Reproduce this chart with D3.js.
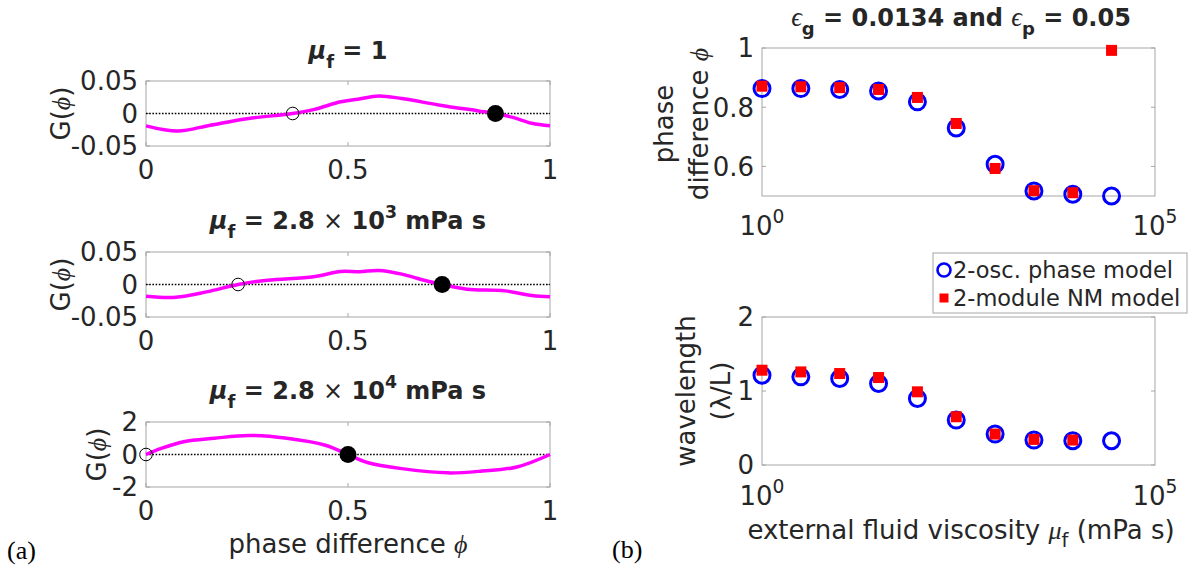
<!DOCTYPE html>
<html><head><meta charset="utf-8">
<script src="https://cdn.jsdelivr.net/npm/d3@7"></script>
<style>
body{margin:0;background:#fff}
svg text{font-family:"DejaVu Sans",Verdana,sans-serif;fill:#262626}
</style>
</head><body>
<svg id="c" width="1193" height="571"></svg>
<script>
// ---------- data ----------
const phiA = [0, 0.079, 0.159, 0.254, 0.363, 0.415, 0.482, 0.524, 0.576, 0.633, 0.728, 0.823, 0.865, 0.908, 0.955, 1.0];
const gA   = [-0.019, -0.027, -0.018, -0.0077, 0, 0.006, 0.018, 0.022, 0.027, 0.023, 0.0128, 0.004, 0, -0.006, -0.015, -0.019];
const phiB = [0, 0.074, 0.150, 0.228, 0.301, 0.415, 0.482, 0.529, 0.576, 0.633, 0.681, 0.733, 0.794, 0.889, 0.955, 1.0];
const gB   = [-0.018, -0.0196, -0.0113, 0, 0.0067, 0.0119, 0.020, 0.0196, 0.0216, 0.016, 0.0077, 0, -0.0072, -0.0098, -0.017, -0.019];
const phiC = [0, 0.036, 0.093, 0.169, 0.254, 0.349, 0.444, 0.5, 0.548, 0.633, 0.747, 0.832, 0.918, 1.0];
const gC   = [0, 0.36, 0.79, 1.0, 1.17, 1.0, 0.57, 0, -0.49, -0.87, -1.13, -1.02, -0.77, 0];
const unstableZeros = [0.363, 0.228, 0];
const stableZeros   = [0.865, 0.733, 0.5];
const gDomains = [[-0.05, 0.05], [-0.05, 0.05], [-2, 2]];
const gTicks   = [[-0.05, 0, 0.05], [-0.05, 0, 0.05], [-2, 0, 2]];
const gTickLabels = [["-0.05", "0", "0.05"], ["-0.05", "0", "0.05"], ["-2", "0", "2"]];
const phiTicks = [0, 0.5, 1];
const phiTickLabels = ["0", "0.5", "1"];

const muValues = [1, 3.12, 9.74, 30.4, 94.9, 296, 924, 2884, 9000, 28000];
const phaseOsc = [0.863, 0.863, 0.860, 0.855, 0.818, 0.730, 0.607, 0.517, 0.506, 0.500];
const phaseNM  = [0.871, 0.869, 0.866, 0.860, 0.833, 0.745, 0.593, 0.518, 0.511, 0.992];
const waveOsc  = [1.213, 1.191, 1.169, 1.101, 0.899, 0.607, 0.418, 0.337, 0.328, 0.328];
const waveNM   = [1.281, 1.258, 1.236, 1.182, 0.989, 0.652, 0.418, 0.346, 0.337];
const phaseTicks = [0.6, 0.8, 1];
const phaseTickLabels = ["0.6", "0.8", "1"];
const waveTicks = [0, 1, 2];
const waveTickLabels = ["0", "1", "2"];
const legendLabels = ["2-osc. phase model", "2-module NM model"];

// ---------- drawing ----------
const svg = d3.select("#c");
const FS = 26;     // tick labels
const FL = 26;     // axis labels
const FT = 24;     // titles
const SERIF = "'Liberation Serif','DejaVu Serif',serif";
const boxColor = "#a6a6a6";
const tickLen = 4;

// Left panels
const L = {x0: 146, x1: 550, h: 65, tops: [81, 252, 422]};
const xPhi = d3.scaleLinear().domain([0, 1]).range([L.x0, L.x1]);
const curves = [[phiA, gA], [phiB, gB], [phiC, gC]];
const titleBaselines = [59, 229, 399];
const gLabelX = [70, 70, 106];

curves.forEach(([px, gy], i) => {
  const top = L.tops[i], bot = top + L.h;
  const y = d3.scaleLinear().domain(gDomains[i]).range([bot, top]);
  const g = svg.append("g");
  g.append("rect").attr("x", L.x0).attr("y", top).attr("width", L.x1 - L.x0).attr("height", L.h)
    .attr("fill", "none").attr("stroke", boxColor).attr("stroke-width", 1);
  phiTicks.forEach(t => {
    const xx = xPhi(t);
    g.append("line").attr("x1", xx).attr("x2", xx).attr("y1", bot).attr("y2", bot - tickLen).attr("stroke", boxColor);
    g.append("line").attr("x1", xx).attr("x2", xx).attr("y1", top).attr("y2", top + tickLen).attr("stroke", boxColor);
  });
  gTicks[i].forEach(t => {
    const yy = y(t);
    g.append("line").attr("x1", L.x0).attr("x2", L.x0 + tickLen).attr("y1", yy).attr("y2", yy).attr("stroke", boxColor);
    g.append("line").attr("x1", L.x1).attr("x2", L.x1 - tickLen).attr("y1", yy).attr("y2", yy).attr("stroke", boxColor);
  });
  gTicks[i].forEach((t, k) => {
    g.append("text").attr("x", L.x0 - 8).attr("y", y(t)).attr("dy", "0.36em")
      .attr("text-anchor", "end").attr("font-size", FS).text(gTickLabels[i][k]);
  });
  phiTicks.forEach((t, k) => {
    g.append("text").attr("x", xPhi(t)).attr("y", bot + 33)
      .attr("text-anchor", "middle").attr("font-size", FS).text(phiTickLabels[k]);
  });
  g.append("line").attr("x1", L.x0).attr("x2", L.x1).attr("y1", y(0)).attr("y2", y(0))
    .attr("stroke", "#000").attr("stroke-width", 1.6).attr("stroke-dasharray", "1.6,1.6");
  const data = px.map((p, k) => [p, gy[k]]);
  g.append("path").datum(data)
    .attr("d", d3.line().x(d => xPhi(d[0])).y(d => y(d[1])).curve(d3.curveCatmullRom.alpha(0.5)))
    .attr("fill", "none").attr("stroke", "#ff00ff").attr("stroke-width", 3.5);
  g.append("circle").attr("cx", xPhi(unstableZeros[i])).attr("cy", y(0)).attr("r", 6.3)
    .attr("fill", "none").attr("stroke", "#000").attr("stroke-width", 1);
  g.append("circle").attr("cx", xPhi(stableZeros[i])).attr("cy", y(0)).attr("r", 8.5)
    .attr("fill", "#000");
  const yl = g.append("text").attr("transform", `translate(${gLabelX[i]},${(top + bot) / 2}) rotate(-90)`)
    .attr("text-anchor", "middle").attr("font-size", FL);
  yl.append("tspan").text("G(");
  yl.append("tspan").attr("font-family", SERIF).attr("font-style", "italic").text("ϕ");
  yl.append("tspan").text(")");
  const tt = g.append("text").attr("x", (L.x0 + L.x1) / 2).attr("y", titleBaselines[i])
    .attr("text-anchor", "middle").attr("font-size", FT).attr("font-weight", "bold");
  tt.append("tspan").attr("font-style", "italic").text("μ");
  tt.append("tspan").attr("font-size", FT * 0.75).attr("dy", 9).text("f");
  if (i === 0) {
    tt.append("tspan").attr("dy", -9).text(" = 1");
  } else {
    tt.append("tspan").attr("dy", -9).text(" = 2.8 ");
    tt.append("tspan").attr("font-weight", "normal").text("×");
    tt.append("tspan").text(" 10");
    tt.append("tspan").attr("font-size", FT * 0.72).attr("dy", -11).text(i === 1 ? "3" : "4");
    tt.append("tspan").attr("dy", 11).text(" mPa s");
  }
});

// x label left
const xlL = svg.append("text").attr("x", (L.x0 + L.x1) / 2).attr("y", 553)
  .attr("text-anchor", "middle").attr("font-size", FL);
xlL.append("tspan").text("phase difference ");
xlL.append("tspan").attr("font-family", SERIF).attr("font-style", "italic").text("ϕ");

svg.append("text").attr("x", 7).attr("y", 559).attr("font-size", 26)
  .style("font-family", SERIF).style("fill", "#000").text("(a)");
svg.append("text").attr("x", 612).attr("y", 558).attr("font-size", 26)
  .style("font-family", SERIF).style("fill", "#000").text("(b)");

// Right panels
const R = {x0: 762, x1: 1155};
const xMu = d3.scaleLog().domain([1, 1e5]).range([R.x0, R.x1]);
const panelsR = [
  {top: 48, bot: 196, dom: [0.5, 1], ticks: phaseTicks, labels: phaseTickLabels, osc: phaseOsc, nm: phaseNM, xlabBase: 235},
  {top: 317, bot: 465, dom: [0, 2], ticks: waveTicks, labels: waveTickLabels, osc: waveOsc, nm: waveNM, xlabBase: 505}
];
panelsR.forEach((p, i) => {
  const y = d3.scaleLinear().domain(p.dom).range([p.bot, p.top]);
  const g = svg.append("g");
  g.append("rect").attr("x", R.x0).attr("y", p.top).attr("width", R.x1 - R.x0).attr("height", p.bot - p.top)
    .attr("fill", "none").attr("stroke", boxColor);
  p.ticks.forEach((t, k) => {
    const yy = y(t);
    g.append("line").attr("x1", R.x0).attr("x2", R.x0 + tickLen).attr("y1", yy).attr("y2", yy).attr("stroke", boxColor);
    g.append("line").attr("x1", R.x1).attr("x2", R.x1 - tickLen).attr("y1", yy).attr("y2", yy).attr("stroke", boxColor);
    g.append("text").attr("x", R.x0 - 8).attr("y", yy).attr("dy", "0.36em")
      .attr("text-anchor", "end").attr("font-size", FS).text(p.labels[k]);
  });
  [1, 1e5].forEach((t, k) => {
    const tx = g.append("text").attr("x", xMu(t)).attr("y", p.xlabBase).attr("text-anchor", "middle").attr("font-size", FS);
    tx.append("tspan").text("10");
    tx.append("tspan").attr("font-size", FS * 0.72).attr("dy", -12).text(k === 0 ? "0" : "5");
  });
  g.selectAll(".osc").data(p.osc).join("circle")
    .attr("cx", (d, k) => xMu(muValues[k])).attr("cy", d => y(d)).attr("r", 8)
    .attr("fill", "none").attr("stroke", "#0000ff").attr("stroke-width", 3);
  g.selectAll(".nm").data(p.nm).join("rect")
    .attr("x", (d, k) => xMu(muValues[k]) - 5.5).attr("y", d => y(d) - 5.5)
    .attr("width", 11).attr("height", 11).attr("fill", "#ff0000");
});

// right y labels
function twoLine(x, yc, l1, l2parts) {
  const t = svg.append("text").attr("transform", `translate(${x},${yc}) rotate(-90)`)
    .attr("text-anchor", "middle").attr("font-size", FL);
  t.append("tspan").attr("x", 0).attr("y", 0).text(l1);
  const s = t.append("tspan").attr("x", 0).attr("y", 35);
  l2parts.forEach(([txt, serif]) => {
    const sp = s.append("tspan").text(txt);
    if (serif) sp.attr("font-family", SERIF).attr("font-style", "italic");
  });
}
twoLine(673, 124, "phase", [["difference ", false], ["ϕ", true]]);
twoLine(695, 391, "wavelength", [["(λ/L)", false]]);

// right title
const rt = svg.append("text").attr("x", 961).attr("y", 26)
  .attr("text-anchor", "middle").attr("font-size", FT).attr("font-weight", "bold");
rt.append("tspan").attr("font-family", SERIF).attr("font-style", "italic").attr("font-weight", "normal").attr("font-size", FT * 1.1).text("ϵ");
rt.append("tspan").attr("font-size", FT * 0.75).attr("dy", 9).text("g");
rt.append("tspan").attr("dy", -9).text(" = 0.0134 and ");
rt.append("tspan").attr("font-family", SERIF).attr("font-style", "italic").attr("font-weight", "normal").attr("font-size", FT * 1.1).text("ϵ");
rt.append("tspan").attr("font-size", FT * 0.75).attr("dy", 9).text("p");
rt.append("tspan").attr("dy", -9).text(" = 0.05");

// right x label
const xr = svg.append("text").attr("x", 961).attr("y", 539).attr("text-anchor", "middle").attr("font-size", FL);
xr.append("tspan").text("external fluid viscosity ");
xr.append("tspan").attr("font-family", SERIF).attr("font-style", "italic").text("μ");
xr.append("tspan").attr("font-size", FL * 0.75).attr("dy", 8).text("f");
xr.append("tspan").attr("dy", -8).text(" (mPa s)");

// legend
const lg = svg.append("g");
lg.append("rect").attr("x", 933).attr("y", 253).attr("width", 254).attr("height", 60)
  .attr("fill", "#fff").attr("stroke", boxColor);
lg.append("circle").attr("cx", 944).attr("cy", 270).attr("r", 6.5).attr("fill", "none").attr("stroke", "#0000ff").attr("stroke-width", 2.6);
lg.append("rect").attr("x", 939.5).attr("y", 293.5).attr("width", 9).attr("height", 9).attr("fill", "#ff0000");
legendLabels.forEach((s, k) => {
  lg.append("text").attr("x", 953).attr("y", 270 + k * 28).attr("dy", "0.36em").attr("font-size", 22.5).text(s);
});
</script>
</body></html>
